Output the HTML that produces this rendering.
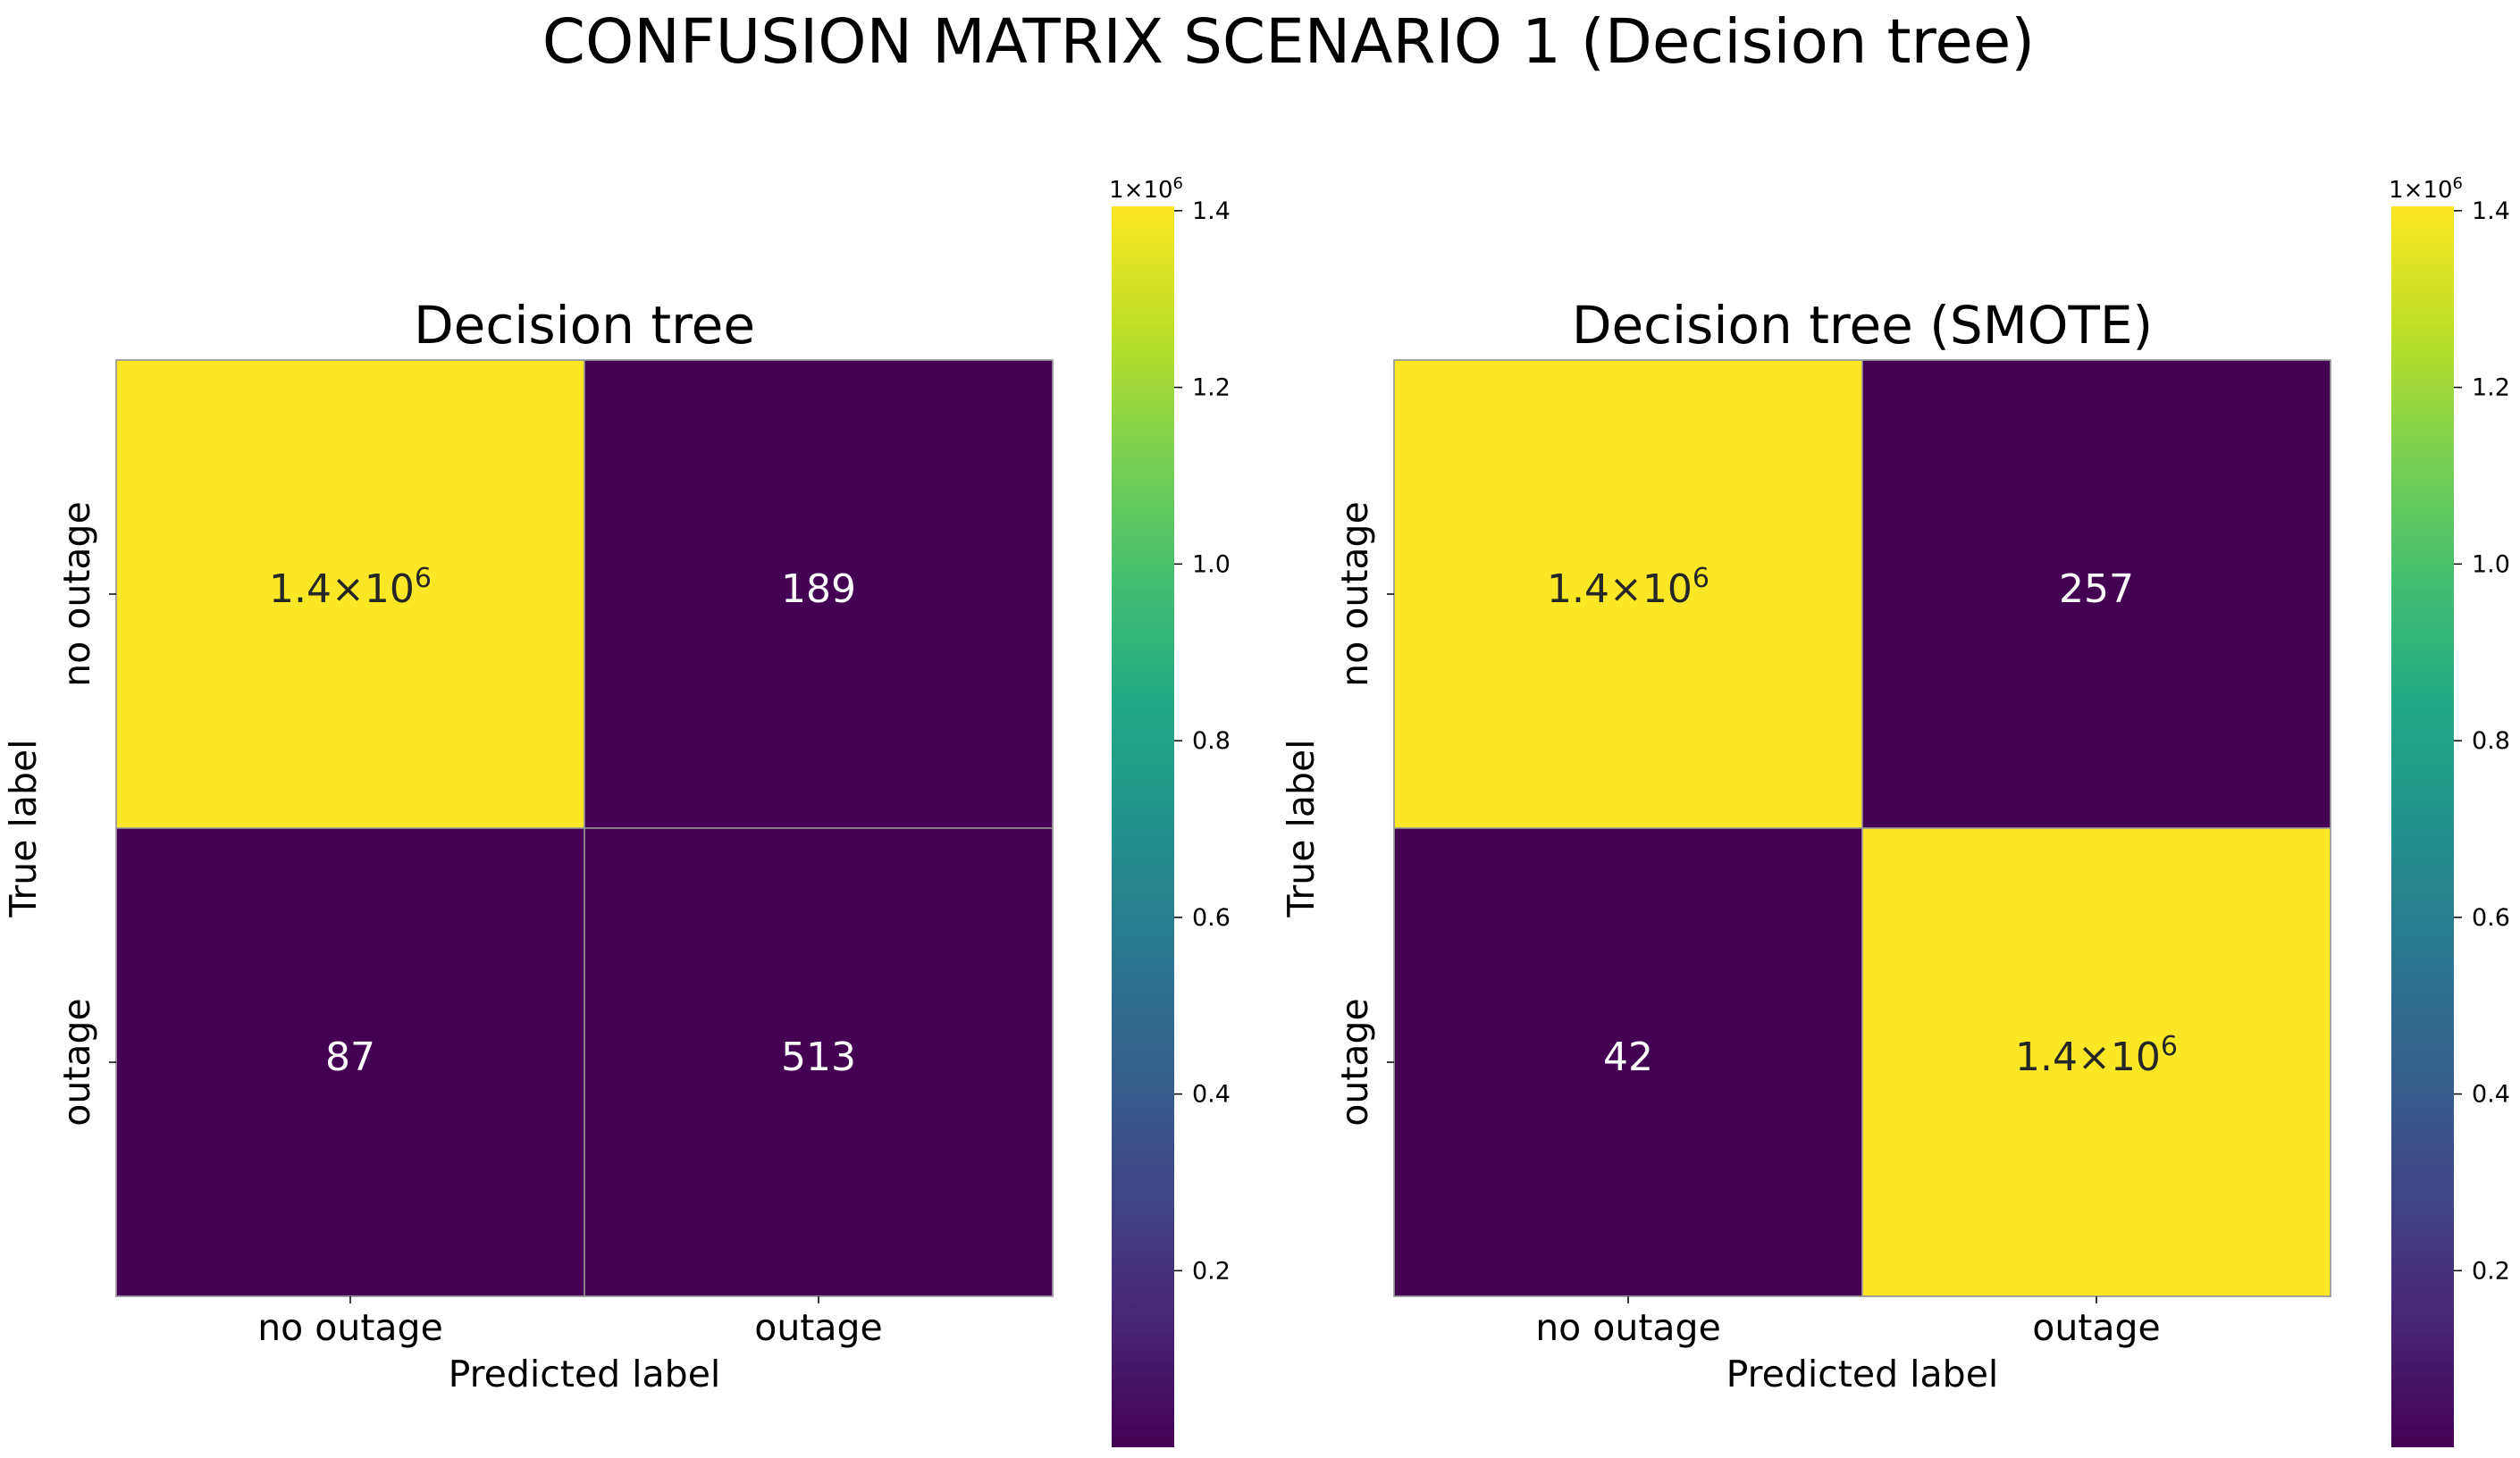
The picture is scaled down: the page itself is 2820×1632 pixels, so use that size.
<!DOCTYPE html>
<html><head><meta charset="utf-8"><style>
html,body{margin:0;padding:0;background:#fff;}
svg{display:block;font-family:"DejaVu Sans","Liberation Sans",sans-serif;}
</style></head><body>
<svg id="fig" width="2820" height="1632" viewBox="0 0 2820 1632" xmlns="http://www.w3.org/2000/svg">
<defs>
<linearGradient id="viridis" x1="0" y1="1" x2="0" y2="0">
<stop offset="0" stop-color="#440154"/><stop offset="0.1" stop-color="#482475"/><stop offset="0.2" stop-color="#414487"/><stop offset="0.3" stop-color="#355f8d"/><stop offset="0.4" stop-color="#2a788e"/><stop offset="0.5" stop-color="#21918c"/><stop offset="0.6" stop-color="#22a884"/><stop offset="0.7" stop-color="#44bf70"/><stop offset="0.8" stop-color="#7ad151"/><stop offset="0.9" stop-color="#bddf26"/><stop offset="1" stop-color="#fde725"/>
</linearGradient>
</defs>
<text x="1442" y="70" font-size="69" text-anchor="middle" fill="#000">CONFUSION MATRIX SCENARIO 1 (Decision tree)</text>
</svg>
<script>
const categories = ["no outage", "outage"];
const panelTitles = ["Decision tree", "Decision tree (SMOTE)"];
const matrixA = [[1400000, 189], [87, 513]];
const matrixB = [[1400000, 257], [42, 1400000]];
const cbTicks = [0.2, 0.4, 0.6, 0.8, 1.0, 1.2, 1.4];
const cbTickLabels = ["0.2", "0.4", "0.6", "0.8", "1.0", "1.2", "1.4"];

const NS = "http://www.w3.org/2000/svg";
const svg = document.getElementById("fig");
const vir = ["#440154","#482475","#414487","#355f8d","#2a788e","#21918c","#22a884","#44bf70","#7ad151","#bddf26","#fde725"];
function hex(h){return [1,3,5].map(i=>parseInt(h.substr(i,2),16));}
function cmap(t){t=Math.max(0,Math.min(1,t));const f=t*10,i=Math.min(9,Math.floor(f)),r=f-i;const a=hex(vir[i]),b=hex(vir[i+1]);return "rgb("+a.map((v,k)=>Math.round(v+(b[k]-v)*r)).join(",")+")";}
function el(tag, attrs, parent){const e=document.createElementNS(NS,tag);for(const k in attrs)e.setAttribute(k,attrs[k]);(parent||svg).appendChild(e);return e;}
function fmt(v, parentText){
  if(v>=100000){const exp=Math.floor(Math.log10(v));const m=(v/Math.pow(10,exp)).toFixed(1);
    parentText.textContent=m+"×10";const s=el("tspan",{"baseline-shift":"super","font-size":"30"},parentText);s.textContent=String(exp);}
  else parentText.textContent=String(v);
}
function panel(mat, title, x0, cbx, idx){
  const size=1048, y0=403, n=categories.length, cs=size/n;
  const flat=mat.flat(); const vmin=Math.min(...flat), vmax=Math.max(...flat)*1.0035;
  const xs=i=>x0+i*cs, ys=j=>y0+j*cs;
  const g=el("g",{});
  
  
  for(let r=0;r<n;r++)for(let c=0;c<n;c++){
    const v=mat[r][c], t=(v-vmin)/(vmax-vmin);
    const rc=el("rect",{x:xs(c),y:ys(r),width:cs,height:cs,fill:cmap(t),stroke:"#999","stroke-width":1.5},g);
    
    
    const tx=el("text",{x:xs(c)+cs/2,y:ys(r)+cs/2+9,"font-size":44,"text-anchor":"middle",fill:t>0.5?"#262626":"#fff"},g);
    
    
    fmt(v,tx);
  }
  el("rect",{x:x0,y:y0,width:size,height:size,fill:"none",stroke:"#999","stroke-width":1.5},g);
  const tt=el("text",{x:x0+size/2,y:384,"font-size":58,"text-anchor":"middle",fill:"#000"},g);
  
  
  tt.textContent=title;
  categories.forEach((cat,i)=>{
    const cx=xs(i)+cs/2;
    el("line",{x1:cx,y1:y0+size,x2:cx,y2:y0+size+8,stroke:"#000","stroke-width":1.5},g);
    const xl=el("text",{x:cx,y:1500,"font-size":41,"text-anchor":"middle",fill:"#000"},g);
    
    
    xl.textContent=cat;
    const cy=ys(i)+cs/2;
    el("line",{x1:x0-8,y1:cy,x2:x0,y2:cy,stroke:"#000","stroke-width":1.5},g);
    const yl=el("text",{x:0,y:0,"font-size":41,"text-anchor":"middle",fill:"#000",transform:"translate("+(x0-30)+","+cy+") rotate(-90)"},g);
    
    
    yl.textContent=cat;
  });
  const xt=el("text",{x:x0+size/2,y:1552,"font-size":41,"text-anchor":"middle",fill:"#000"},g);
  
  
  xt.textContent="Predicted label";
  const yt=el("text",{x:0,y:0,"font-size":41,"text-anchor":"middle",fill:"#000",transform:"translate("+(x0-90)+","+(y0+size/2)+") rotate(-90)"},g);
  
  
  yt.textContent="True label";
  const cbTop=231, cbBot=1620, cbW=70;
  const cbv=v=>cbBot-(v*1e6-vmin)/(vmax-vmin)*(cbBot-cbTop);
  const cb=el("rect",{x:cbx,y:cbTop,width:cbW,height:cbBot-cbTop,fill:"url(#viridis)"},g);
  
  
  cbTicks.forEach((tv,i)=>{
    const y=cbv(tv);
    el("line",{x1:cbx+cbW,y1:y,x2:cbx+cbW+9,y2:y,stroke:"#000","stroke-width":1.5},g);
    const l=el("text",{x:cbx+cbW+20,y:y+9,"font-size":27,fill:"#000"},g);
    
    
    l.textContent=cbTickLabels[i];
  });
  const off=el("text",{x:cbx+cbW+10,y:221,"font-size":26,"text-anchor":"end",fill:"#000"},g);
  
  
  off.textContent="1×10";
  const sup=el("tspan",{"baseline-shift":"super","font-size":18},off);
  sup.textContent="6";
}
panel(matrixA, panelTitles[0], 130, 1244, 0);
panel(matrixB, panelTitles[1], 1560, 2676, 1);
</script>
</body></html>
